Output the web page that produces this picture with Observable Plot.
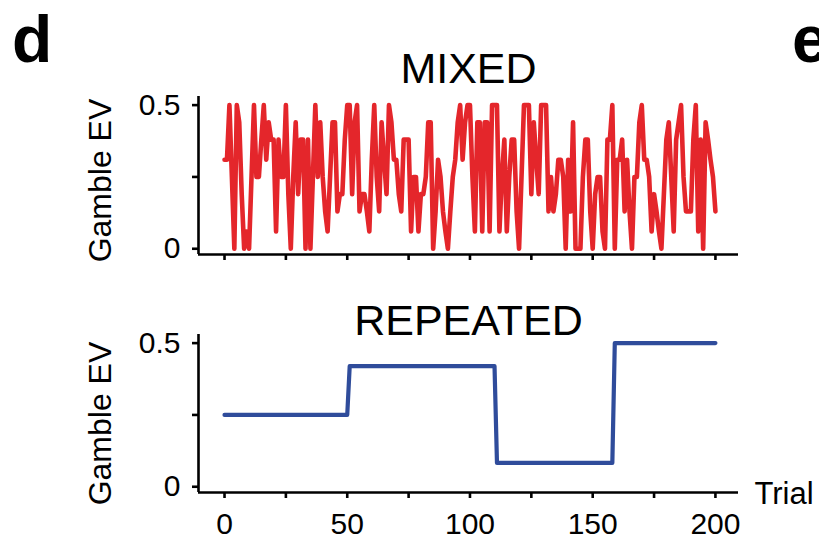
<!DOCTYPE html>
<html>
<head>
<meta charset="utf-8">
<script src="https://cdn.jsdelivr.net/npm/d3@7"></script>
<script src="https://cdn.jsdelivr.net/npm/@observablehq/plot@0.6"></script>
<style>
  html, body { margin: 0; padding: 0; background: #fff; }
  #wrap { position: relative; width: 819px; height: 542px; overflow: hidden; font-family: "Liberation Sans", Arial, sans-serif; }
  #top, #bottom, #letters { position: absolute; left: 0; }
  #top { top: 0; }
  #bottom { top: 270px; }
  #letters { top: 0; pointer-events: none; }
</style>
</head>
<body>
<div id="wrap">
  <div id="top"></div>
  <div id="bottom"></div>
  <svg id="letters" width="819" height="100">
    <text x="12" y="62" font-family="Liberation Sans, Arial, sans-serif" font-weight="bold" font-size="66">d</text>
    <text x="792" y="62" font-family="Liberation Sans, Arial, sans-serif" font-weight="bold" font-size="66">e</text>
  </svg>
</div>
<script>
// ---- data ----
const mixedEV = [
  0.31, 0.31, 0.5, 0.25, 0, 0.5, 0.44, 0.19, 0, 0.06,
  0, 0.25, 0.5, 0.25, 0.25, 0.38, 0.5, 0.31, 0.44, 0.38,
  0.38, 0.06, 0.38, 0.25, 0.25, 0.5, 0.19, 0, 0.25, 0.44,
  0.19, 0.38, 0.38, 0, 0.38, 0, 0.25, 0.5, 0.25, 0.44,
  0.25, 0.13, 0.06, 0.25, 0.44, 0.44, 0.13, 0.19, 0.19, 0.38,
  0.5, 0.5, 0.19, 0.44, 0.5, 0.13, 0.19, 0.19, 0.13, 0.06,
  0.31, 0.5, 0.25, 0.13, 0.44, 0.31, 0.19, 0.5, 0.44, 0.31,
  0.31, 0.19, 0.13, 0.38, 0.38, 0.38, 0.06, 0.25, 0.25, 0.06,
  0.19, 0.19, 0.25, 0.44, 0.44, 0, 0.13, 0.31, 0.25, 0.13,
  0.06, 0, 0.13, 0.25, 0.31, 0.44, 0.5, 0.31, 0.44, 0.5,
  0.5, 0.25, 0.06, 0.44, 0.44, 0.06, 0.44, 0.44, 0.06, 0.5,
  0.5, 0.5, 0.06, 0.25, 0.38, 0.06, 0.25, 0.38, 0.38, 0.13,
  0, 0.25, 0.5, 0.5, 0.5, 0.19, 0.44, 0.31, 0.19, 0.5,
  0.5, 0.5, 0.13, 0.25, 0.13, 0.19, 0.31, 0.31, 0.25, 0,
  0.31, 0.13, 0.44, 0, 0, 0, 0.25, 0.38, 0.38, 0.13,
  0, 0.19, 0.25, 0.25, 0.06, 0, 0.38, 0.38, 0.5, 0,
  0.31, 0.31, 0.38, 0.13, 0.31, 0.13, 0, 0.25, 0.25, 0.44,
  0.5, 0.31, 0.31, 0.25, 0.06, 0.19, 0.13, 0.06, 0, 0.19,
  0.38, 0.44, 0.25, 0.06, 0.38, 0.44, 0.5, 0.25, 0.13, 0.13,
  0.13, 0.38, 0.5, 0.06, 0.38, 0, 0.44, 0.38, 0.31, 0.25,
  0.13
];
// repeated condition: blocks of constant EV
const blockStart = [0, 51, 111, 159];
const blockEnd   = [50, 110, 158, 200];
const blockEV    = [0.25, 0.42, 0.083, 0.5];

const xTicks  = [0, 25, 50, 75, 100, 125, 150, 175, 200];
const xLabels = [0, 50, 100, 150, 200];
const yTicks  = [0, 0.25, 0.5];
const yLabels = [0, 0.5];
const titles  = ["MIXED", "REPEATED"];
const yTitle  = "Gamble EV";
const xTitle  = "Trial";

// ---- tables ----
const mixed = mixedEV.map((v, i) => ({trial: i, ev: v}));
const repeated = [];
blockStart.forEach((s, b) => {
  for (let t = s; t <= blockEnd[b]; t++) repeated.push({trial: t, ev: blockEV[b]});
});

const xDomain = [-10.6, 209.4];
const yDomain = [-0.02, 0.53];
const FONT = "Liberation Sans, Arial, sans-serif";
const RED = "#e4262b";
const BLUE = "#2f4c9b";

function panel({data, color, title, titleDy, labelDy, height, marginTop, marginBottom, showLabels, lineWidth}) {
  const marks = [
    Plot.ruleY([yDomain[0]], {stroke: "#000", strokeWidth: 2.6}),
    Plot.ruleX([xDomain[0]], {stroke: "#000", strokeWidth: 2.6}),
    Plot.axisY({ticks: yTicks, tickSize: 6, strokeWidth: 2.6, text: null, label: null}),
    Plot.axisY({ticks: yLabels, tickSize: 0, tickPadding: 18, fontSize: 30, label: null, tickFormat: d => d === 0 ? "0" : String(d)}),
    Plot.axisX({ticks: xTicks, tickSize: 6, strokeWidth: 2.6, text: null, label: null}),
    Plot.line(data, {x: "trial", y: "ev", stroke: color, strokeWidth: lineWidth, strokeLinejoin: "round", curve: "linear"}),
    Plot.text([title], {frameAnchor: "top", lineAnchor: "bottom", dy: titleDy, fontSize: 43, fill: "#000"}),
    Plot.text([yTitle], {frameAnchor: "left", rotate: -90, dx: -98, dy: labelDy, fontSize: 32, lineAnchor: "middle", textAnchor: "middle", fill: "#000"})
  ];
  if (showLabels) {
    marks.push(Plot.axisX({ticks: xLabels, tickSize: 0, tickPadding: 20, fontSize: 30, label: null}));
    marks.push(Plot.text([xTitle], {frameAnchor: "bottom-right", textAnchor: "start", lineAnchor: "middle", dx: 16, dy: 2, fontSize: 31, fill: "#000"}));
  }
  return Plot.plot({
    width: 819,
    height,
    marginLeft: 198,
    marginRight: 81,
    marginTop,
    marginBottom,
    style: {fontFamily: FONT, color: "#000", background: "transparent", overflow: "visible"},
    x: {domain: xDomain, label: null},
    y: {domain: yDomain, label: null},
    marks
  });
}

document.getElementById("top").append(panel({
  data: mixed, color: RED, title: titles[0], titleDy: -14, labelDy: 5,
  height: 264, marginTop: 96, marginBottom: 10, showLabels: false, lineWidth: 4.6
}));
document.getElementById("bottom").append(panel({
  data: repeated, color: BLUE, title: titles[1], titleDy: 0, labelDy: 10,
  height: 272, marginTop: 64, marginBottom: 50, showLabels: true, lineWidth: 4.2
}));
</script>
</body>
</html>
